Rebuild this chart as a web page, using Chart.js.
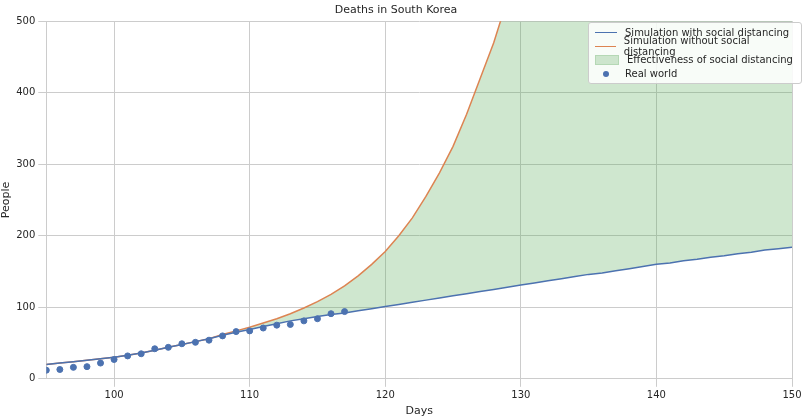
<!DOCTYPE html>
<html><head><meta charset="utf-8">
<script src="https://cdn.jsdelivr.net/npm/chart.js@4"></script>
<style>
body{margin:0;background:#fff;font-family:"DejaVu Sans",sans-serif}
#wrap{position:relative;width:806px;height:418px}
#leg{position:absolute;left:588px;top:22px;width:200px;background:rgba(255,255,255,0.85);border:1px solid #ccc;border-radius:3px;font-size:10px;color:#262626;padding:3px 6px}
#leg div{display:flex;align-items:center;height:13.5px}
#leg span.s{display:inline-block;width:22px;margin-right:8px}
</style></head><body>
<div id="wrap"><canvas id="c" width="806" height="418"></canvas>
<div id="leg">
<div><span class="s" style="border-top:1.5px solid #4c72b0"></span>Simulation with social distancing</div>
<div><span class="s" style="border-top:1.5px solid #dd8452"></span>Simulation without social distancing</div>
<div><span class="s" style="height:8px;background:#cde5cd;border:1px solid #b5d8b5"></span>Effectiveness of social distancing</div>
<div><span class="s" style="text-align:center"><span style="display:inline-block;width:6px;height:6px;border-radius:50%;background:#4c72b0"></span></span>Real world</div>
</div></div>
<script>
const days=[];for(let d=95;d<=150;d++)days.push(d);
const withSD=[20,22,24,26,28,30,33,36,40,44,48,52,56,61,65,69,73,77,81,84,87,90,92,95,98,101,104,107,110,113,116,119,122,125,128,131,134,137,140,143,146,148,151,154,157,160,162,165,167,170,172,175,177,180,182,184];
const withoutSD=[20,22,24,26,28,30,33,36,40,44,48,52,56,62,67,72,78,84,91,99,108,118,130,144,160,178,200,225,255,288,325,370,420,470,530,600,680,770,870,980,1100,1240,1390,1560,1750,1960,2200,2460,2750,3080,3440,3850,4300,4800,5360,6000];
const realDays=[95,96,97,98,99,100,101,102,103,104,105,106,107,108,109,110,111,112,113,114,115,116,117];
const realVals=[12,13,16,17,22,27,32,35,42,44,49,51,54,60,66,67,71,75,76,81,84,91,94];
const xy=(xs,ys)=>xs.map((x,i)=>({x,y:ys[i]}));
new Chart(document.getElementById('c'),{
type:'line',
data:{datasets:[
{label:'Simulation with social distancing',data:xy(days,withSD),borderColor:'#4c72b0',borderWidth:1.5,pointRadius:0,fill:false,order:2},
{label:'Simulation without social distancing',data:xy(days,withoutSD),borderColor:'#dd8452',borderWidth:1.5,pointRadius:0,fill:{target:0},backgroundColor:'rgba(76,168,76,0.27)',order:3},
{label:'Real world',type:'scatter',data:xy(realDays,realVals),backgroundColor:'#4c72b0',borderColor:'#4c72b0',pointRadius:3,order:1}
]},
options:{responsive:false,animation:false,
layout:{padding:{left:0,right:14,top:0,bottom:0}},
plugins:{legend:{display:false},tooltip:{enabled:false},
title:{display:true,text:'Deaths in South Korea',color:'#262626',font:{family:'DejaVu Sans',size:11,weight:'normal'},padding:{top:4,bottom:4}}},
scales:{
x:{type:'linear',min:95,max:150,afterBuildTicks:a=>{a.ticks=[100,110,120,130,140,150].map(v=>({value:v}))},
 grid:{color:'#cccccc'},border:{color:'#cccccc'},ticks:{color:'#262626',font:{family:'DejaVu Sans',size:10}},
 title:{display:true,text:'Days',color:'#262626',font:{family:'DejaVu Sans',size:11},padding:0}},
y:{min:0,max:500,ticks:{stepSize:100,color:'#262626',font:{family:'DejaVu Sans',size:10}},
 grid:{color:'#cccccc'},border:{color:'#cccccc'},
 title:{display:true,text:'People',color:'#262626',font:{family:'DejaVu Sans',size:11},padding:0}}
}}});
</script></body></html>
